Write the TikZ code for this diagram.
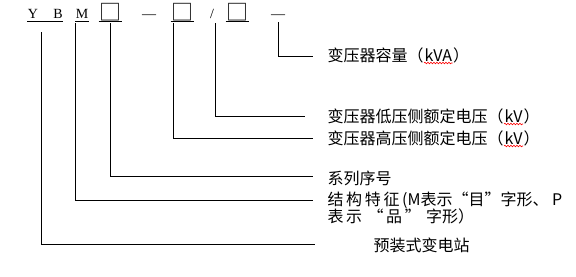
\documentclass[tikz,border=0pt]{standalone}
\usepackage{fontspec}
\setmainfont{Liberation Serif}
\newfontfamily\cjk{Noto Sans CJK SC}
\usetikzlibrary{decorations.pathmorphing}

\tikzset{
  code/.style={anchor=base,inner sep=0pt,font=\fontsize{14}{16}\selectfont},
  sq/.style={anchor=base,inner sep=0pt,font=\cjk\fontsize{22}{24}\selectfont},
  lbl/.style={anchor=base west,inner sep=0pt,font=\cjk\fontsize{16}{18}\selectfont},
  wavy/.style={red,line width=0.6pt,decorate,decoration={snake,amplitude=0.8pt,segment length=3pt}},
}

\begin{document}
\begin{tikzpicture}[x=1pt,y=-1pt,line width=1pt]
  \useasboundingbox (0,0) rectangle (576,276);
  % model code
  \node[code] (Y) at (33,18) {Y};
  \node[code] (B) at (58,18) {B};
  \node[code] (M) at (82,18) {M};
  \node[sq] (S1) at (110,20) {□};
  \node[code] (D1) at (149,18) {—};
  \node[sq] (S2) at (182,20) {□};
  \node[code] (Sl) at (212,18) {/};
  \node[sq] (S3) at (237,20) {□};
  \node[code] (D2) at (278,18) {—};
  \draw ([yshift=-3pt]Y.base west) -- ([yshift=-3pt]B.base east);
  \draw ([yshift=-3pt]M.base west) -- ([yshift=-3pt]M.base east);
  \foreach \s in {S1,S2,S3}
    \draw ([yshift=-1pt]\s.base west) -- ([yshift=-1pt]\s.base east);
  % explanations
  \node[lbl] (kva) at (327,61) {变压器容量（};
  \node[lbl] (kvaU) at (kva.base east) {kVA};
  \node[lbl] at (kvaU.base east) {）};
  \node[lbl] (lv) at (327,122) {变压器低压侧额定电压（};
  \node[lbl] (lvU) at (lv.base east) {kV};
  \node[lbl] at (lvU.base east) {）};
  \node[lbl] (hv) at (327,144) {变压器高压侧额定电压（};
  \node[lbl] (hvU) at (hv.base east) {kV};
  \node[lbl] at (hvU.base east) {）};
  \node[lbl] (ser) at (327,184) {系列序号};
  \node[lbl] (str) at (327,205) {结\,构\,特\,征\,(M表示“目”字形、\ P};
  \node[lbl] (str2) at (327,222) {表\,示\,\,“\,品\,”\,\,字形）};
  \node[lbl] (pre) at (373,251) {预装式变电站};
  \foreach \u in {kvaU,lvU,hvU}
    \draw[wavy] ([yshift=-2pt]\u.base west) -- ([yshift=-2pt]\u.base east);
  % leaders
  \coordinate (tY) at (41,32);  \coordinate (eY) at (315,244);
  \coordinate (tM) at (75,23);  \coordinate (eM) at (313,200);
  \coordinate (tS) at (110,23); \coordinate (eS) at (313,176);
  \coordinate (tH) at (173,23); \coordinate (eH) at (313,138);
  \coordinate (tL) at (215,23); \coordinate (eL) at (305,116);
  \coordinate (tC) at (278,22); \coordinate (eC) at (313,56);
  \foreach \a in {Y,M,S,H,L,C}
    \draw (t\a) |- (e\a);
\end{tikzpicture}
\end{document}
